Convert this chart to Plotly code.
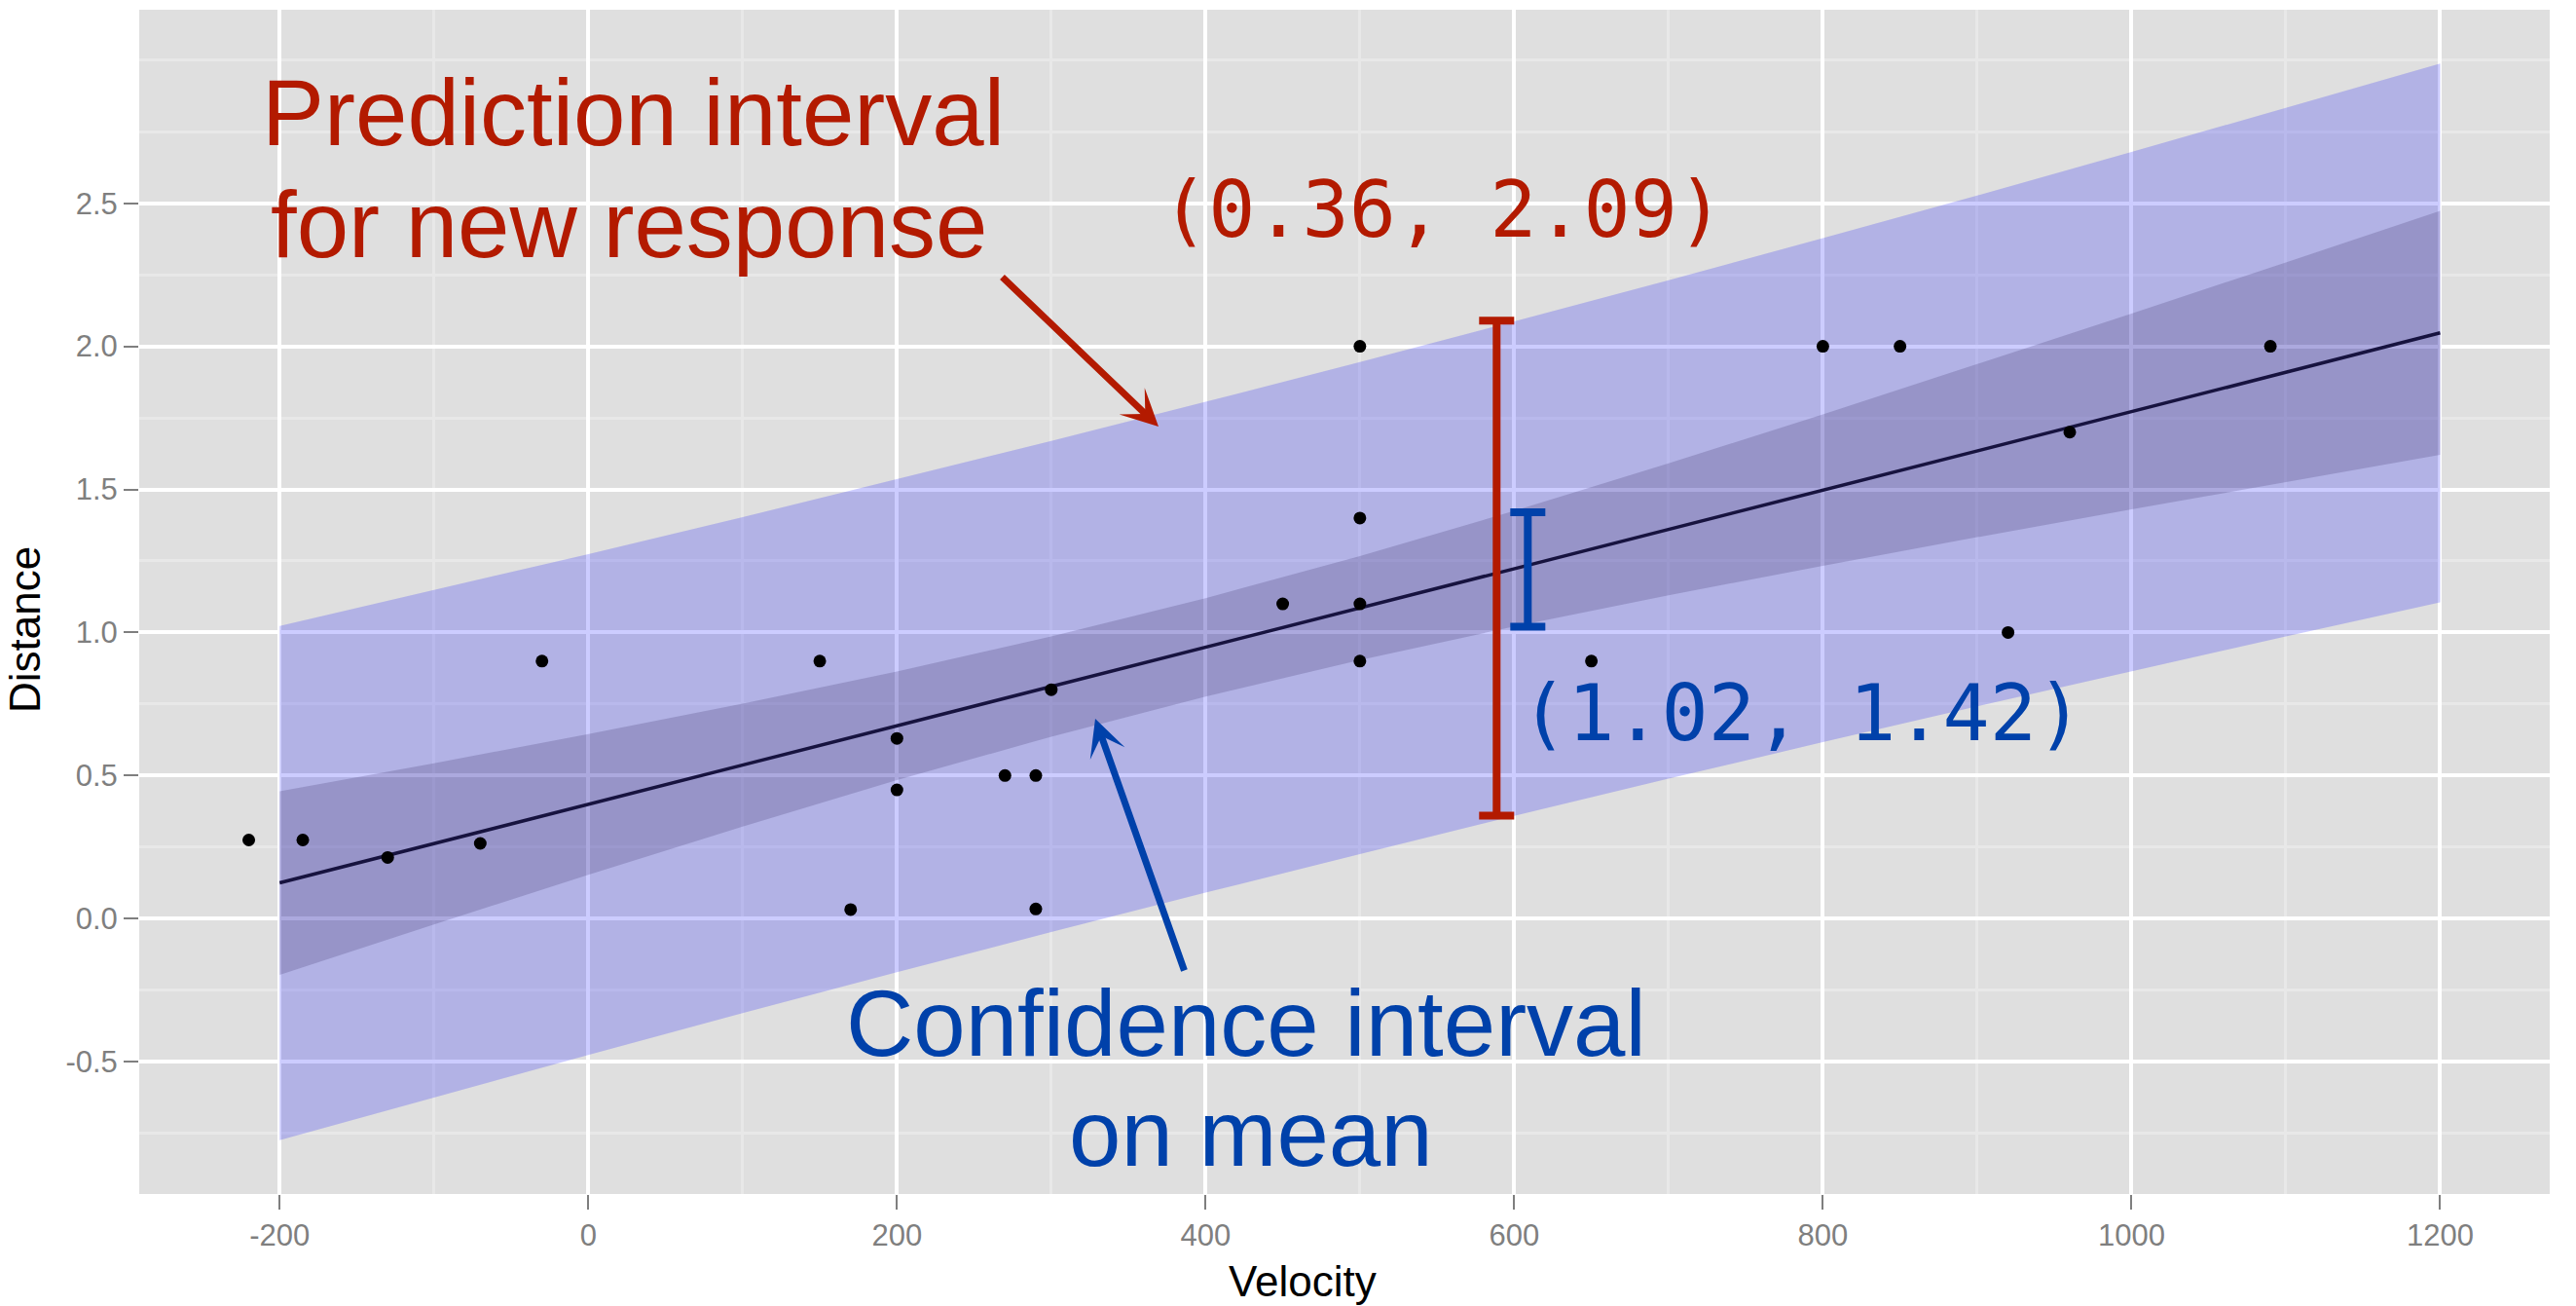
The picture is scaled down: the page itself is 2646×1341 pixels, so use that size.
import plotly.graph_objects as go

# Hubble (1929): recession velocity (km/s) and distance (Mpc) of 24 galaxies
velocity = [170, 290, -130, -70, -185, -220, 200, 290, 270, 200, 300, -30,
            650, 150, 500, 920, 450, 500, 500, 960, 500, 850, 800, 1090]
distance = [0.032, 0.034, 0.214, 0.263, 0.275, 0.275, 0.45, 0.5, 0.5, 0.63, 0.8, 0.9,
            0.9, 0.9, 0.9, 1.0, 1.1, 1.1, 1.4, 1.7, 2.0, 2.0, 2.0, 2.0]

# fitted line with 95% confidence / prediction bands on a velocity grid
grid_v = [-200, -100, 0, 100, 200, 300, 400, 500, 600, 700, 800, 900, 1000, 1100, 1200]
fit = [0.125, 0.262, 0.399, 0.536, 0.674, 0.811, 0.948, 1.086, 1.223, 1.360, 1.497,
       1.635, 1.772, 1.909, 2.047]
ci_lo = [-0.196, -0.020, 0.153, 0.322, 0.484, 0.636, 0.776, 0.904, 1.021, 1.130, 1.233,
         1.333, 1.430, 1.526, 1.621]
ci_hi = [0.445, 0.543, 0.645, 0.751, 0.864, 0.986, 1.120, 1.267, 1.425, 1.591, 1.762,
         1.937, 2.114, 2.293, 2.473]
pi_lo = [-0.774, -0.624, -0.476, -0.330, -0.187, -0.047, 0.091, 0.226, 0.359, 0.489,
         0.617, 0.742, 0.865, 0.986, 1.105]
pi_hi = [1.023, 1.148, 1.274, 1.403, 1.535, 1.669, 1.806, 1.945, 2.087, 2.231, 2.378,
         2.527, 2.679, 2.833, 2.988]

# interval bars at velocity ~ 600
pi_bar = [0.36, 2.09]
ci_bar = [1.02, 1.42]

x_ticks = [-200, 0, 200, 400, 600, 800, 1000, 1200]
y_ticks = [-0.5, 0.0, 0.5, 1.0, 1.5, 2.0, 2.5]
y_ticktext = ["-0.5", "0.0", "0.5", "1.0", "1.5", "2.0", "2.5"]
x_minor = [-100, 100, 300, 500, 700, 900, 1100]
y_minor = [-0.75, -0.25, 0.25, 0.75, 1.25, 1.75, 2.25, 2.75, 3.0]

RED = "#B31A00"
BLUE = "#0041AA"
SANS = "Liberation Sans, Arial, Helvetica, sans-serif"
MONO = "DejaVu Sans Mono, monospace"

W, H = 2646, 1341
PL, PR, PT, PB = 143, 2619, 10, 1226


def px(x):
    return (x - PL) / (PR - PL)


def py(y):
    return (PB - y) / (PB - PT)


fig = go.Figure()

# prediction band
fig.add_trace(go.Scatter(x=grid_v, y=pi_lo, mode="lines", line=dict(width=0),
                         hoverinfo="skip", showlegend=False))
fig.add_trace(go.Scatter(x=grid_v, y=pi_hi, mode="lines", line=dict(width=0),
                         fill="tonexty", fillcolor="rgba(0,0,255,0.2)",
                         hoverinfo="skip", showlegend=False))
# confidence band
fig.add_trace(go.Scatter(x=grid_v, y=ci_lo, mode="lines", line=dict(width=0),
                         hoverinfo="skip", showlegend=False))
fig.add_trace(go.Scatter(x=grid_v, y=ci_hi, mode="lines", line=dict(width=0),
                         fill="tonexty", fillcolor="rgba(20,0,60,0.17)",
                         hoverinfo="skip", showlegend=False))
# regression line
fig.add_trace(go.Scatter(x=grid_v, y=fit, mode="lines",
                         line=dict(color="#17133F", width=3.5), showlegend=False))
# observations
fig.add_trace(go.Scatter(x=velocity, y=distance, mode="markers",
                         marker=dict(color="black", size=13), showlegend=False))

# interval bars
for xb, bar, col in [(588.6, pi_bar, RED), (608.8, ci_bar, BLUE)]:
    fig.add_trace(go.Scatter(
        x=[xb], y=[bar[0]], mode="markers",
        marker=dict(color="rgba(0,0,0,0)", size=1),
        error_y=dict(type="data", symmetric=False,
                     array=[bar[1] - bar[0]], arrayminus=[0],
                     color=col, thickness=8, width=18),
        hoverinfo="skip", showlegend=False))

annotations = [
    dict(text="Prediction interval", x=px(650), y=py(115), font=dict(size=96, color=RED, family=SANS)),
    dict(text="for new response", x=px(646), y=py(230), font=dict(size=96, color=RED, family=SANS)),
    dict(text="Confidence interval", x=px(1280), y=py(1050), font=dict(size=96, color=BLUE, family=SANS)),
    dict(text="on mean", x=px(1285), y=py(1163), font=dict(size=96, color=BLUE, family=SANS)),
    dict(text=f"({pi_bar[0]:.2f}, {pi_bar[1]:.2f})", x=px(1482), y=py(215),
         font=dict(size=80, color=RED, family=MONO)),
    dict(text=f"({ci_bar[0]:.2f}, {ci_bar[1]:.2f})", x=px(1851), y=py(732),
         font=dict(size=80, color=BLUE, family=MONO)),
    dict(text="Velocity", x=px(1338), y=py(1315), font=dict(size=44, color="black", family=SANS)),
    dict(text="Distance", x=px(25), y=py(646), textangle=-90,
         font=dict(size=44, color="black", family=SANS)),
]
for a in annotations:
    a.update(xref="paper", yref="paper", xanchor="center", yanchor="middle", showarrow=False)

# pointer arrows (tip, tail) in pixels
for tip, tail, col in [((1190, 438), (1028, 283), RED), ((1125, 738), (1217, 998), BLUE)]:
    annotations.append(dict(
        text="", xref="paper", yref="paper", x=px(tip[0]), y=py(tip[1]),
        ax=tail[0] - tip[0], ay=tail[1] - tip[1],
        showarrow=True, arrowhead=3, arrowsize=0.9, arrowwidth=7, arrowcolor=col))

axis_common = dict(
    showgrid=True, gridcolor="white", gridwidth=4, zeroline=False,
    ticks="outside", ticklen=15, tickwidth=2, tickcolor="#7F7F7F",
    tickfont=dict(family=SANS, size=31, color="#7F7F7F"),
    showline=False,
)

fig.update_layout(
    width=W, height=H,
    margin=dict(l=PL, r=W - PR, t=PT, b=H - PB),
    paper_bgcolor="white", plot_bgcolor="#DFDFDF",
    xaxis=dict(range=[-291, 1271], tickvals=x_ticks, ticktext=[str(v) for v in x_ticks],
               minor=dict(tickvals=x_minor, showgrid=True, gridcolor="#E8E8E8", gridwidth=3, ticks=""),
               **axis_common),
    yaxis=dict(range=[-0.962, 3.176], tickvals=y_ticks, ticktext=y_ticktext,
               minor=dict(tickvals=y_minor, showgrid=True, gridcolor="#E8E8E8", gridwidth=3, ticks=""),
               **axis_common),
    annotations=annotations,
    showlegend=False,
)

fig.write_html("out.html")
